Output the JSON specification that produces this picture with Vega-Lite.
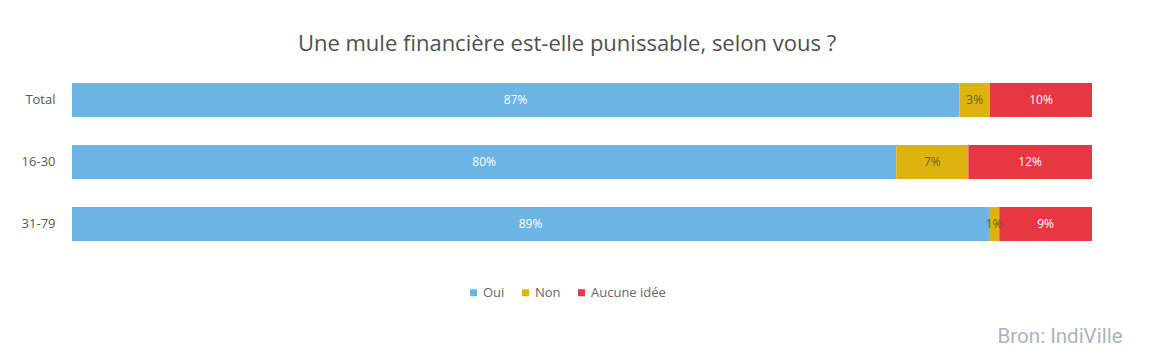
{
  "$schema": "https://vega.github.io/schema/vega-lite/v6.json",
  "autosize": "none",
  "width": 1020,
  "height": 186,
  "padding": {"left": 72, "top": 69, "right": 75, "bottom": 106},
  "background": "white",
  "config": {"view": {"stroke": null}},
  "title": {
    "text": "Une mule financière est-elle punissable, selon vous ?",
    "font": "Open Sans",
    "fontSize": 22,
    "fontWeight": "normal",
    "color": "#505050",
    "offset": 13,
    "dx": -15
  },
  "data": {
    "values": [
      {"groupe": "Total", "reponse": "Oui", "rang": 1, "pct": 87, "etiquette": "87%"},
      {"groupe": "Total", "reponse": "Non", "rang": 2, "pct": 3, "etiquette": "3%"},
      {"groupe": "Total", "reponse": "Aucune idée", "rang": 3, "pct": 10, "etiquette": "10%"},
      {"groupe": "16-30", "reponse": "Oui", "rang": 1, "pct": 80, "etiquette": "80%"},
      {"groupe": "16-30", "reponse": "Non", "rang": 2, "pct": 7, "etiquette": "7%"},
      {"groupe": "16-30", "reponse": "Aucune idée", "rang": 3, "pct": 12, "etiquette": "12%"},
      {"groupe": "31-79", "reponse": "Oui", "rang": 1, "pct": 89, "etiquette": "89%"},
      {"groupe": "31-79", "reponse": "Non", "rang": 2, "pct": 1, "etiquette": "1%"},
      {"groupe": "31-79", "reponse": "Aucune idée", "rang": 3, "pct": 9, "etiquette": "9%"}
    ]
  },
  "encoding": {
    "y": {
      "field": "groupe",
      "type": "nominal",
      "sort": ["Total", "16-30", "31-79"],
      "scale": {"paddingInner": 0.4516, "paddingOuter": 0.225},
      "axis": {
        "title": null,
        "domain": false,
        "ticks": false,
        "labelPadding": 17,
        "labelFont": "Open Sans",
        "labelFontSize": 13,
        "labelColor": "#595959"
      }
    },
    "x": {
      "field": "pct",
      "type": "quantitative",
      "stack": "normalize",
      "scale": {"domain": [0, 1], "nice": false},
      "axis": {
        "labels": false,
        "ticks": false,
        "domain": false,
        "grid": false,
        "title": "Bron: IndiVille",
        "titleFont": "Roboto",
        "titleFontSize": 20.5,
        "titleFontWeight": "normal",
        "titleColor": "#a9b5c3",
        "titleX": 1050,
        "titleY": 81,
        "titleAlign": "right",
        "titleBaseline": "middle"
      }
    },
    "order": {"field": "rang", "type": "quantitative"}
  },
  "layer": [
    {
      "mark": {"type": "bar"},
      "encoding": {
        "color": {
          "field": "reponse",
          "type": "nominal",
          "sort": ["Oui", "Non", "Aucune idée"],
          "scale": {
            "domain": ["Oui", "Non", "Aucune idée"],
            "range": ["#6cb4e4", "#ddb40f", "#e63743"]
          },
          "legend": {
            "title": null,
            "orient": "none",
            "legendX": 395,
            "legendY": 217,
            "direction": "horizontal",
            "symbolType": "square",
            "symbolSize": 49,
            "symbolStrokeWidth": 0,
            "labelFont": "Open Sans",
            "labelFontSize": 13,
            "labelColor": "#666666",
            "columnPadding": 14,
            "labelOffset": 3
          }
        }
      }
    },
    {
      "mark": {"type": "text", "font": "Open Sans", "fontSize": 12},
      "encoding": {
        "x": {
          "field": "pct",
          "type": "quantitative",
          "stack": "normalize",
          "bandPosition": 0.5
        },
        "text": {"field": "etiquette", "type": "nominal"},
        "color": {
          "condition": {"test": "datum.reponse === 'Non'", "value": "#6e5c1c"},
          "value": "#ffffff"
        }
      }
    }
  ]
}
